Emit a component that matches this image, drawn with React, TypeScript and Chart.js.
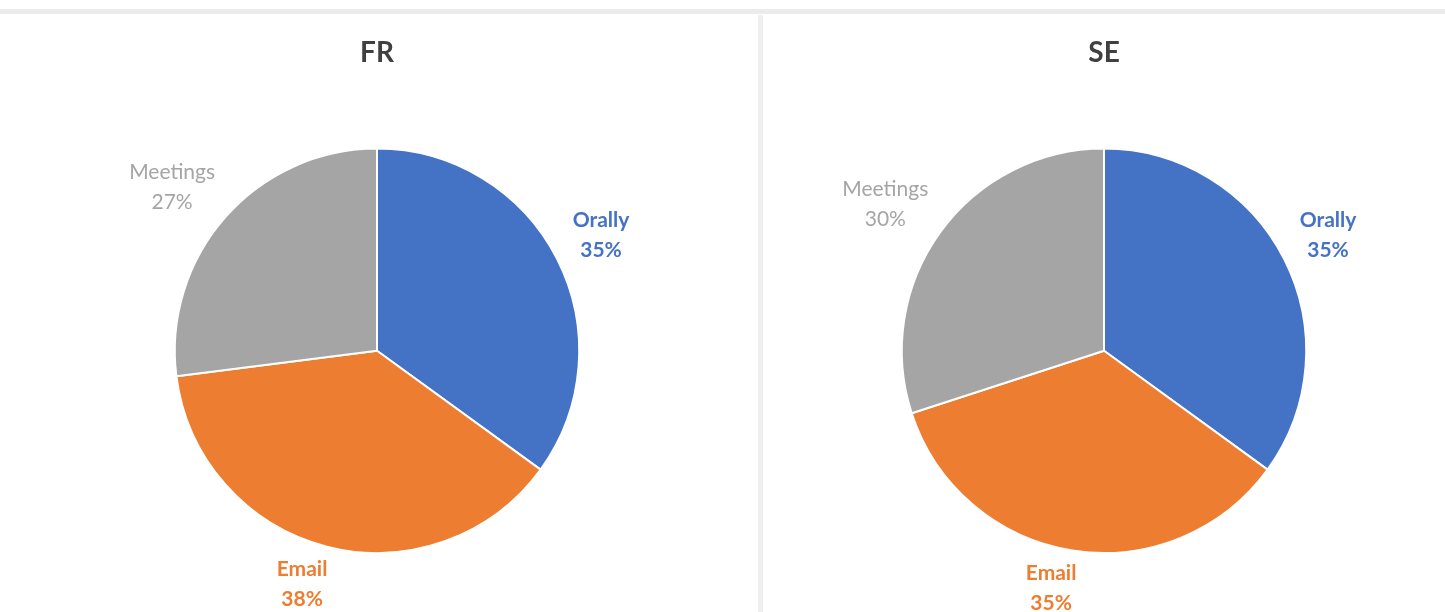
import React, { useEffect, useRef } from "react";
import { Chart, registerables } from "chart.js";

Chart.register(...registerables);

const categories = ["Orally", "Email", "Meetings"];
const frValues = [35, 38, 27];
const seValues = [35, 35, 30];
const sliceColors = ["#4472C4", "#ED7D31", "#A5A5A5"];
const labelColors = ["#4472C4", "#ED7D31", "#A5A5A5"];
const labelBold = [true, true, false];

const outsideLabels = {
  id: "outsideLabels",
  afterDatasetsDraw(chart: any) {
    const ctx = chart.ctx;
    const meta = chart.getDatasetMeta(0);
    const data = chart.data.datasets[0].data as number[];
    const total = data.reduce((a, b) => a + b, 0);
    const fontSize = 21;
    const lineH = 30;
    meta.data.forEach((arc: any, i: number) => {
      const mid = (arc.startAngle + arc.endAngle) / 2;
      const ux = Math.cos(mid);
      const uy = Math.sin(mid);
      const r = arc.outerRadius + 8;
      const lines = [chart.data.labels[i] as string, Math.round((data[i] / total) * 100) + "%"];
      ctx.save();
      ctx.font = `${labelBold[i] ? "bold " : ""}${fontSize}px Lato, "Open Sans", sans-serif`;
      const w = Math.max(...lines.map((l) => ctx.measureText(l).width));
      const h = lineH * 2;
      const sx = Math.sign(ux) * Math.sqrt(Math.abs(ux));
      const sy = Math.sign(uy) * Math.sqrt(Math.abs(uy));
      const cx = arc.x + r * ux + (sx * w) / 2 + Math.sign(ux) * 10;
      const cy = arc.y + r * uy + (sy * h) / 2;
      ctx.fillStyle = labelColors[i];
      ctx.textAlign = "center";
      ctx.textBaseline = "middle";
      ctx.fillText(lines[0], cx, cy - lineH / 2);
      ctx.fillText(lines[1], cx, cy + lineH / 2);
      ctx.restore();
    });
  },
};

function PieChart({ title, values }: { title: string; values: number[] }) {
  const ref = useRef<HTMLCanvasElement>(null);
  useEffect(() => {
    if (!ref.current) return;
    const chart = new Chart(ref.current, {
      type: "pie",
      data: {
        labels: categories,
        datasets: [
          {
            data: values,
            backgroundColor: sliceColors,
            borderColor: "#ffffff",
            borderWidth: 2,
          },
        ],
      },
      options: {
        animation: false,
        responsive: false,
        maintainAspectRatio: false,
        layout: { padding: { top: 0, bottom: 58, left: 0, right: 0 } },
        plugins: {
          legend: { display: false },
          tooltip: { enabled: false },
          title: {
            display: true,
            text: title,
            color: "#404040",
            font: { size: 28, weight: "bold", family: "Lato, 'Open Sans', sans-serif", lineHeight: 1.2 },
            padding: { top: 36, bottom: 78 },
          },
        },
      },
      plugins: [outsideLabels],
    });
    return () => chart.destroy();
  }, []);
  return <canvas ref={ref} width={754} height={612} style={{ display: "block" }} />;
}

export default function App() {
  return (
    <div style={{ position: "fixed", left: 0, top: 0, width: 1445, height: 612, background: "#ffffff", overflow: "hidden" }}>
      <div style={{ position: "absolute", left: 0, top: 9, width: 1445, height: 5, background: "#ebebeb" }} />
      <div style={{ position: "absolute", left: 758, top: 15, width: 5, height: 600, background: "#efefef" }} />
      <div style={{ position: "absolute", left: 0, top: 0 }}>
        <PieChart title="FR" values={frValues} />
      </div>
      <div style={{ position: "absolute", left: 727, top: 0 }}>
        <PieChart title="SE" values={seValues} />
      </div>
    </div>
  );
}
